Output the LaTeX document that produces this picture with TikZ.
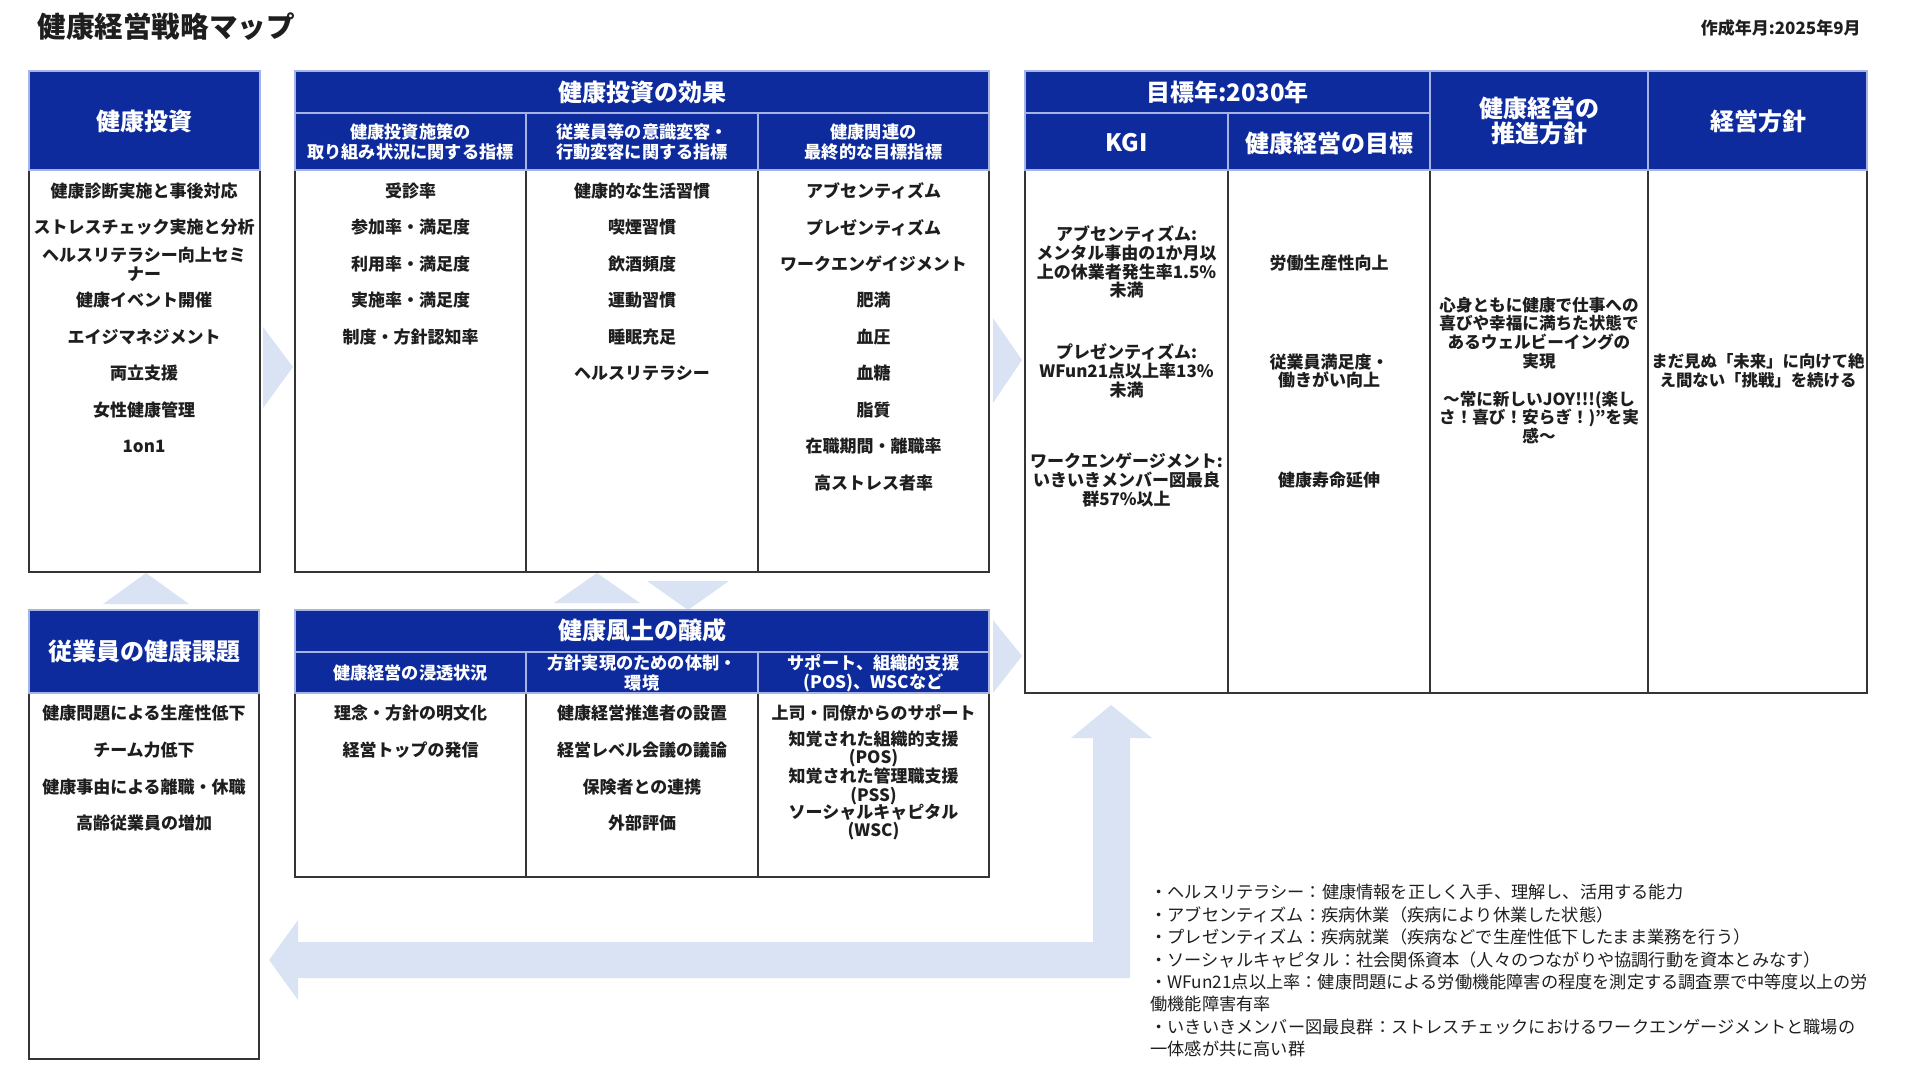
\documentclass[tikz,border=0pt]{standalone}
\usepackage{fontspec}
\setmainfont{Noto Sans CJK JP}
\usepackage{tikz}

\definecolor{hdblue}{RGB}{14,43,158}
\definecolor{hdline}{RGB}{165,180,228}
\definecolor{arrowblue}{RGB}{218,227,243}
\definecolor{ink}{RGB}{30,30,30}

\begin{document}
\begin{tikzpicture}[x=0.5pt, y=-0.5pt,
	head/.style={fill=hdblue, draw=hdline, line width=0.6pt},
	body/.style={draw=ink!90, line width=0.9pt},
	chev/.style={fill=arrowblue, draw=none},
	htext/.style={text=white, font=\fontsize{12}{12.6}\selectfont\bfseries, align=center, inner sep=0},
	stext/.style={text=white, font=\fontsize{8.6}{9.6}\selectfont\bfseries, align=center, inner sep=0},
	item/.style={text=ink, font=\fontsize{8.5}{9.4}\selectfont\bfseries, align=center, inner sep=0},
	note/.style={text=ink, font=\fontsize{8.6}{11.2}\selectfont, align=left, inner sep=0}]
		\def\cL{144};
		\def\cA{410.5};
		\def\cB{642};
		\def\cC{873.5};
		\def\cK{1126.5};
		\def\cG{1329};
		\def\cP{1539};
		\def\cM{1758};
		
		\useasboundingbox (0,0) rectangle (1920,1080);
		
		% title
		\node [anchor=west, inner sep=0, text=ink, font=\fontsize{14.3}{15}\selectfont\bfseries] (title) at (37,27) {健康経営戦略マップ};
		\node [anchor=east, inner sep=0, text=ink, font=\fontsize{8.5}{9}\selectfont\bfseries] (date) at (1861,28) {作成年月:2025年9月};
		
		% arrows
		\fill [chev] (263,327) -- (293,367) -- (263,408) -- cycle;
		\fill [chev] (993,318) -- (1022,360) -- (993,403) -- cycle;
		\fill [chev] (993,620) -- (1022,656) -- (993,693) -- cycle;
		\fill [chev] (103,604) -- (146,573) -- (189,604) -- cycle;
		\fill [chev] (554,603) -- (597,573) -- (640,603) -- cycle;
		\fill [chev] (647,581) -- (688,610) -- (729,581) -- cycle;
		\fill [chev] (1111,705) -- (1152,738) -- (1130,738) -- (1130,978) -- (298,978) -- (298,1000)
			-- (269,960) -- (298,920) -- (298,942) -- (1093,942) -- (1093,738) -- (1071,738) -- cycle;
		
		% health investment
		\draw [body] (29,170) rectangle (260,572);
		\draw [head] (29,71) rectangle (260,170);
		\node [htext] (inv) at (\cL,121) {健康投資};
		\node [item] (inv1) at (\cL,191) {健康診断実施と事後対応};
		\node [item] (inv2) at (\cL,227.5) {ストレスチェック実施と分析};
		\node [item] (inv3) at (\cL,264) {ヘルスリテラシー向上セミ\\ナー};
		\node [item] (inv4) at (\cL,300.5) {健康イベント開催};
		\node [item] (inv5) at (\cL,337) {エイジマネジメント};
		\node [item] (inv6) at (\cL,373.5) {両立支援};
		\node [item] (inv7) at (\cL,410) {女性健康管理};
		\node [item] (inv8) at (\cL,446.5) {1on1};
		
		% effects of health investment
		\draw [body] (295,170) rectangle (989,572);
		\draw [body] (526,170) -- (526,572);
		\draw [body] (758,170) -- (758,572);
		\draw [head] (295,71) rectangle (989,113);
		\draw [head] (295,113) rectangle (526,170);
		\draw [head] (526,113) rectangle (758,170);
		\draw [head] (758,113) rectangle (989,170);
		\node [htext] (eff) at (\cB,92) {健康投資の効果};
		\node [stext] (effA) at (\cA,142) {健康投資施策の\\取り組み状況に関する指標};
		\node [stext] (effB) at (\cB,142) {従業員等の意識変容・\\行動変容に関する指標};
		\node [stext] (effC) at (\cC,142) {健康関連の\\最終的な目標指標};
		
		\node [item] (effA1) at (\cA,191) {受診率};
		\node [item] (effA2) at (\cA,227.5) {参加率・満足度};
		\node [item] (effA3) at (\cA,264) {利用率・満足度};
		\node [item] (effA4) at (\cA,300.5) {実施率・満足度};
		\node [item] (effA5) at (\cA,337) {制度・方針認知率};
		
		\node [item] (effB1) at (\cB,191) {健康的な生活習慣};
		\node [item] (effB2) at (\cB,227.5) {喫煙習慣};
		\node [item] (effB3) at (\cB,264) {飲酒頻度};
		\node [item] (effB4) at (\cB,300.5) {運動習慣};
		\node [item] (effB5) at (\cB,337) {睡眠充足};
		\node [item] (effB6) at (\cB,373.5) {ヘルスリテラシー};
		
		\node [item] (effC1) at (\cC,191) {アブセンティズム};
		\node [item] (effC2) at (\cC,227.5) {プレゼンティズム};
		\node [item] (effC3) at (\cC,264) {ワークエンゲイジメント};
		\node [item] (effC4) at (\cC,300.5) {肥満};
		\node [item] (effC5) at (\cC,337) {血圧};
		\node [item] (effC6) at (\cC,373.5) {血糖};
		\node [item] (effC7) at (\cC,410) {脂質};
		\node [item] (effC8) at (\cC,446.5) {在職期間・離職率};
		\node [item] (effC9) at (\cC,483) {高ストレス者率};
		
		% goals 2030
		\draw [body] (1025,170) rectangle (1867,693);
		\draw [body] (1228,170) -- (1228,693);
		\draw [body] (1430,170) -- (1430,693);
		\draw [body] (1648,170) -- (1648,693);
		\draw [head] (1025,71) rectangle (1430,113);
		\draw [head] (1025,113) rectangle (1228,170);
		\draw [head] (1228,113) rectangle (1430,170);
		\draw [head] (1430,71) rectangle (1648,170);
		\draw [head] (1648,71) rectangle (1867,170);
		\node [htext] (year) at (1227.5,92) {目標年:2030年};
		\node [htext] (kgi) at (\cK,143) {KGI};
		\node [htext] (goal) at (\cG,143) {健康経営の目標};
		\node [htext] (policy) at (\cP,121) {健康経営の\\推進方針};
		\node [htext] (mgmt) at (\cM,121) {経営方針};
		
		\node [item] (kgi1) at (\cK,262) {アブセンティズム:\\メンタル事由の1か月以\\上の休業者発生率1.5\%\\未満};
		\node [item] (kgi2) at (\cK,371) {プレゼンティズム:\\WFun21点以上率13\%\\未満};
		\node [item] (kgi3) at (\cK,480) {ワークエンゲージメント:\\いきいきメンバー図最良\\群57\%以上};
		
		\node [item] (goal1) at (\cG,263) {労働生産性向上};
		\node [item] (goal2) at (\cG,371) {従業員満足度・\\働きがい向上};
		\node [item] (goal3) at (\cG,480) {健康寿命延伸};
		
		\node [item, font=\fontsize{8.3}{9.4}\selectfont\bfseries] (policy1) at (\cP,370.5) {心身ともに健康で仕事への\\喜びや幸福に満ちた状態で\\あるウェルビーイングの\\実現\\[9.4pt]～常に新しいJOY!!!(楽し\\さ！喜び！安らぎ！)”を実\\感～};
		\node [item, font=\fontsize{8.2}{9.4}\selectfont\bfseries] (mgmt1) at (\cM,371) {まだ見ぬ「未来」に向けて絶\\え間ない「挑戦」を続ける};
		
		% employee health issues
		\draw [body] (29,693) rectangle (259,1059);
		\draw [head] (29,610) rectangle (259,693);
		\node [htext] (issue) at (\cL,651) {従業員の健康課題};
		\node [item] (issue1) at (\cL,713) {健康問題による生産性低下};
		\node [item] (issue2) at (\cL,750) {チーム力低下};
		\node [item] (issue3) at (\cL,787) {健康事由による離職・休職};
		\node [item] (issue4) at (\cL,823) {高齢従業員の増加};
		
		% health culture
		\draw [body] (295,693) rectangle (989,877);
		\draw [body] (526,693) -- (526,877);
		\draw [body] (758,693) -- (758,877);
		\draw [head] (295,610) rectangle (989,652);
		\draw [head] (295,652) rectangle (526,693);
		\draw [head] (526,652) rectangle (758,693);
		\draw [head] (758,652) rectangle (989,693);
		\node [htext] (cult) at (\cB,630) {健康風土の醸成};
		\node [stext] (cultA) at (\cA,673) {健康経営の浸透状況};
		\node [stext] (cultB) at (\cB,673) {方針実現のための体制・\\環境};
		\node [stext] (cultC) at (\cC,673) {サポート、組織的支援\\(POS)、WSCなど};
		
		\node [item] (cultA1) at (\cA,713) {理念・方針の明文化};
		\node [item] (cultA2) at (\cA,750) {経営トップの発信};
		
		\node [item] (cultB1) at (\cB,713) {健康経営推進者の設置};
		\node [item] (cultB2) at (\cB,750) {経営レベル会議の議論};
		\node [item] (cultB3) at (\cB,787) {保険者との連携};
		\node [item] (cultB4) at (\cB,823) {外部評価};
		
		\node [item] (cultC1) at (\cC,713) {上司・同僚からのサポート};
		\node [item] (cultC2) at (\cC,749) {知覚された組織的支援\\(POS)};
		\node [item] (cultC3) at (\cC,786) {知覚された管理職支援\\(PSS)};
		\node [item] (cultC4) at (\cC,822) {ソーシャルキャピタル\\(WSC)};
		
		% notes
		\node [note, anchor=north west] (notes) at (1150,884) {・ヘルスリテラシー：健康情報を正しく入手、理解し、活用する能力\\
			・アブセンティズム：疾病休業（疾病により休業した状態）\\
			・プレゼンティズム：疾病就業（疾病などで生産性低下したまま業務を行う）\\
			・ソーシャルキャピタル：社会関係資本（人々のつながりや協調行動を資本とみなす）\\
			・WFun21点以上率：健康問題による労働機能障害の程度を測定する調査票で中等度以上の労\\
			働機能障害有率\\
			・いきいきメンバー図最良群：ストレスチェックにおけるワークエンゲージメントと職場の\\
			一体感が共に高い群};
	\end{tikzpicture}
\end{document}
